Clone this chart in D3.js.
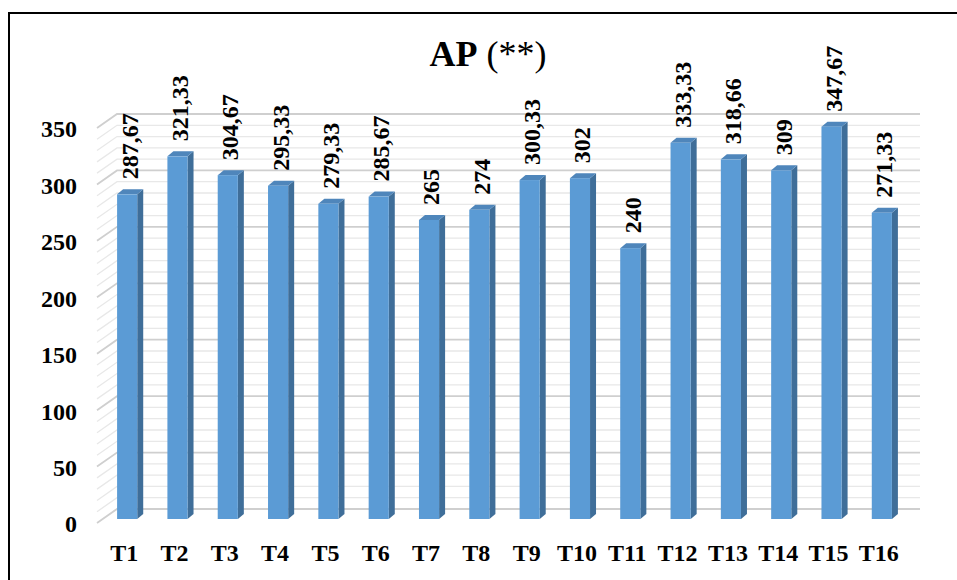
<!DOCTYPE html>
<html>
<head>
<meta charset="UTF-8">
<script src="https://d3js.org/d3.v7.min.js"></script>
<style>
  body { margin: 0; background: #fff; }
  svg { display: block; font-family: "Liberation Serif", "Times New Roman", serif; }
</style>
</head>
<body>
<svg width="957" height="580"></svg>
<script>
const categories = ["T1","T2","T3","T4","T5","T6","T7","T8","T9","T10","T11","T12","T13","T14","T15","T16"];
const values = [287.67, 321.33, 304.67, 295.33, 279.33, 285.67, 265, 274, 300.33, 302, 240, 333.33, 318.66, 309, 347.67, 271.33];
const labels = ["287,67","321,33","304,67","295,33","279,33","285,67","265","274","300,33","302","240","333,33","318,66","309","347,67","271,33"];
const yTicks = [0, 50, 100, 150, 200, 250, 300, 350];

const svg = d3.select("svg");

// frame (only left and top edges fall inside the picture)
svg.append("path")
  .attr("d", "M9,580 L9,13 L957,13")
  .attr("fill", "none").attr("stroke", "#000").attr("stroke-width", 2);

const x = d3.scaleBand().domain(categories).range([102, 907]).paddingInner(0.6).paddingOuter(0.3);
const y = d3.scaleLinear().domain([0, 350]).range([519, 124]);

const depthX = 20, depthY = 14;   // wall/floor perspective offset
const wallLeft = 117, wallRight = 920;

// gridlines: minor every 10, major every 50
const grid = svg.append("g");
d3.range(0, 351, 10).forEach(v => {
  const major = v % 50 === 0;
  const yb = y(v) - 10;
  grid.append("path")
    .attr("d", `M${wallLeft - depthX},${yb + depthY} L${wallLeft},${yb} L${wallRight},${yb}`)
    .attr("fill", "none")
    .attr("stroke", major ? "#cfcfcf" : "#e8e8e8")
    .attr("stroke-width", major ? 1.8 : 1.3);
});

// bars with a little 3D
const sideW = 6, sideH = 5;
const bars = svg.append("g");
categories.forEach((c, i) => {
  const x0 = x(c), w = x.bandwidth(), top = y(values[i]), bot = y(0);
  bars.append("path")
    .attr("d", `M${x0 + w},${top} L${x0 + w + sideW},${top - sideH} L${x0 + w + sideW},${bot - sideH} L${x0 + w},${bot} Z`)
    .attr("fill", "#3f6e99");
  bars.append("path")
    .attr("d", `M${x0},${top} L${x0 + sideW},${top - sideH} L${x0 + w + sideW},${top - sideH} L${x0 + w},${top} Z`)
    .attr("fill", "#4f86bb");
  bars.append("rect")
    .attr("x", x0).attr("y", top).attr("width", w).attr("height", bot - top)
    .attr("fill", "#5b9bd5");
});

// value labels, rotated
svg.append("g").selectAll("text")
  .data(categories)
  .enter().append("text")
  .attr("transform", (c, i) => `translate(${x(c) + x.bandwidth() / 2 + 2},${y(values[i]) - 15}) rotate(-90)`)
  .attr("dy", "0.35em")
  .attr("font-size", 24).attr("font-weight", "bold")
  .text((c, i) => labels[i]);

// y axis labels
svg.append("g").selectAll("text")
  .data(yTicks)
  .enter().append("text")
  .attr("x", 77).attr("y", d => y(d) + 5)
  .attr("dy", "0.35em")
  .attr("text-anchor", "end")
  .attr("font-size", 24).attr("font-weight", "bold")
  .text(d => d);

// x axis labels
svg.append("g").selectAll("text")
  .data(categories)
  .enter().append("text")
  .attr("x", c => x(c) + x.bandwidth() / 2 - 3).attr("y", 561)
  .attr("text-anchor", "middle")
  .attr("font-size", 24).attr("font-weight", "bold")
  .text(c => c);

// title
const title = svg.append("text")
  .attr("x", 488).attr("y", 66)
  .attr("text-anchor", "middle")
  .attr("font-size", 36);
title.append("tspan").attr("font-weight", "bold").text("AP");
title.append("tspan").text(" (**)");
</script>
</body>
</html>
